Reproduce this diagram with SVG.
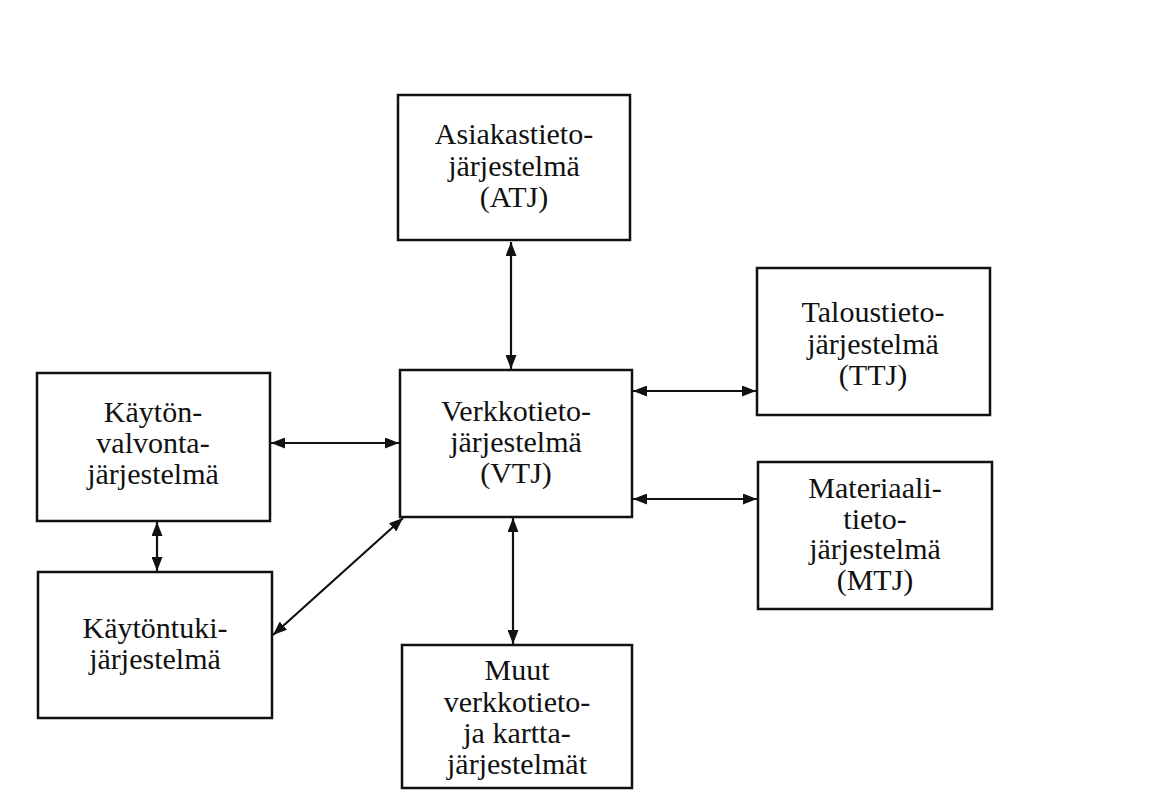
<svg xmlns="http://www.w3.org/2000/svg" width="1157" height="794" viewBox="0 0 1157 794">
<style>
.box{fill:#fff;stroke:#111;stroke-width:2.5}
.t{font-family:"Liberation Serif",serif;font-size:30px;fill:#111;text-anchor:middle}
.c{stroke:#111;stroke-width:2.2;fill:none;marker-start:url(#ah);marker-end:url(#ah)}
</style>
<defs>
<marker id="ah" viewBox="0 0 14 11" refX="14" refY="5.5" markerWidth="14" markerHeight="11" markerUnits="userSpaceOnUse" orient="auto-start-reverse">
<path d="M0,0 L14,5.5 L0,11 Z" fill="#111"/>
</marker>
</defs>
<rect width="1157" height="794" fill="#fff"/>
<g id="connectors">
<line class="c" x1="511" y1="242" x2="511" y2="369"/>
<line class="c" x1="633" y1="391" x2="756" y2="391"/>
<line class="c" x1="633" y1="499" x2="757" y2="499"/>
<line class="c" x1="271" y1="443" x2="399" y2="443"/>
<line class="c" x1="157" y1="522" x2="157" y2="571"/>
<line class="c" x1="273" y1="635" x2="403" y2="518"/>
<line class="c" x1="513" y1="518" x2="513" y2="644"/>
</g>
<g id="ATJ">
<rect class="box" x="398" y="95" width="232" height="145"/>
<text class="t" x="514" y="144">Asiakastieto-</text>
<text class="t" x="514" y="176">järjestelmä</text>
<text class="t" x="514" y="207">(ATJ)</text>
</g>
<g id="TTJ">
<rect class="box" x="757" y="268" width="233" height="147"/>
<text class="t" x="873" y="322">Taloustieto-</text>
<text class="t" x="873" y="354">järjestelmä</text>
<text class="t" x="873" y="385">(TTJ)</text>
</g>
<g id="KVJ">
<rect class="box" x="37" y="373" width="233" height="148"/>
<text class="t" x="153" y="422">Käytön-</text>
<text class="t" x="153" y="453">valvonta-</text>
<text class="t" x="153" y="484">järjestelmä</text>
</g>
<g id="VTJ">
<rect class="box" x="400" y="370" width="232" height="147"/>
<text class="t" x="516" y="421">Verkkotieto-</text>
<text class="t" x="516" y="452">järjestelmä</text>
<text class="t" x="516" y="483">(VTJ)</text>
</g>
<g id="MTJ">
<rect class="box" x="758" y="462" width="234" height="147"/>
<text class="t" x="875" y="498">Materiaali-</text>
<text class="t" x="875" y="529">tieto-</text>
<text class="t" x="875" y="559">järjestelmä</text>
<text class="t" x="875" y="590">(MTJ)</text>
</g>
<g id="KTJ">
<rect class="box" x="38" y="572" width="234" height="146"/>
<text class="t" x="155" y="638">Käytöntuki-</text>
<text class="t" x="155" y="669">järjestelmä</text>
</g>
<g id="Muut">
<rect class="box" x="402" y="645" width="230" height="143"/>
<text class="t" x="517" y="680">Muut</text>
<text class="t" x="517" y="712">verkkotieto-</text>
<text class="t" x="517" y="743">ja kartta-</text>
<text class="t" x="517" y="774">järjestelmät</text>
</g>
</svg>
